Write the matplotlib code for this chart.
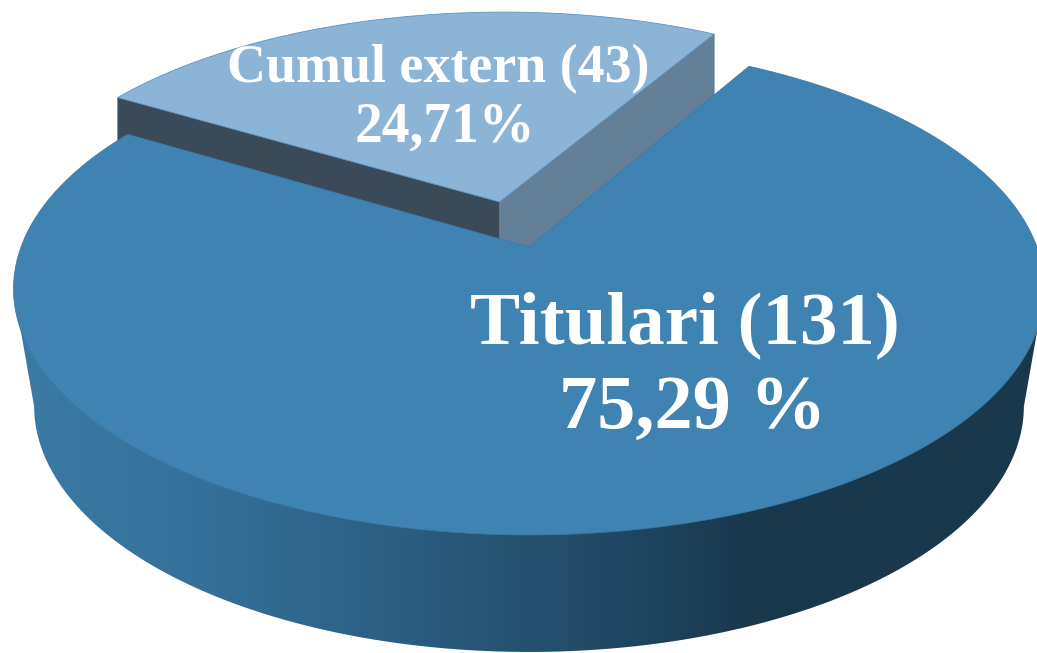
import numpy as np
import matplotlib
matplotlib.use("Agg")
import matplotlib.pyplot as plt
from matplotlib.colors import LinearSegmentedColormap
from matplotlib.patches import Polygon

# data
categories = ["Titulari", "Cumul extern"]
counts = [131, 43]
percent_labels = ["75,29 %", "24,71%"]

# pie geometry, in image pixels
cx, cy = 529, 247
rx, ry = 508, 239
persp = 0.17
depth = 117
bottom_scale = 0.96
start_angle = 60.2  # where the small slice starts, degrees


def project(u, v):
    # flat unit disc -> picture, far side smaller than near side
    den = 1 + persp * v
    return cx + rx * u / den, cy - ry * v / den


def arc(a1, a2, radius=1.0, du=0.0, dv=0.0, n=400):
    t = np.radians(np.linspace(a1, a2, n))
    x, y = project(radius * np.cos(t) + du, radius * np.sin(t) + dv)
    return np.column_stack([x, y])


fig = plt.figure(figsize=(10.37, 6.53), dpi=100)
ax = fig.add_axes([0, 0, 1, 1])
ax.set_xlim(0, 1037)
ax.set_ylim(653, 0)
ax.axis("off")

sweep = 360 * counts[1] / sum(counts)
end_angle = start_angle + sweep

# side of the big slice, horizontal gradient
edge = arc(120, 420)
edge = edge[np.argmin(edge[:, 0]):np.argmax(edge[:, 0]) + 1]
bottom = edge.copy()
bottom[:, 0] = cx + bottom_scale * (bottom[:, 0] - cx)
bottom[:, 1] = bottom[:, 1] + depth
side = Polygon(np.vstack([edge[[0]], bottom, edge[[-1]]]), closed=True, fc="none", ec="none")
ax.add_patch(side)
side_cmap = LinearSegmentedColormap.from_list(
    "side",
    [(0, "#3b7ba4"), (0.2, "#35709a"), (0.4, "#2a5c80"), (0.55, "#234d69"),
     (0.72, "#1a384d"), (1, "#1a384c")],
)
grad = ax.imshow(np.linspace(0, 1, 512).reshape(1, -1), cmap=side_cmap, aspect="auto",
                 extent=(0, 1037, 653, 0), zorder=1)
grad.set_clip_path(side)
ax.set_xlim(0, 1037)
ax.set_ylim(653, 0)

# pulled out slice, walls run on behind the big slice
du, dv, rad = -0.06, 0.195, 0.985
s_arc = arc(start_angle, end_angle, rad, du, dv)
s_apex = np.array(project(du, dv))
wall = 75
left_wall = np.vstack([s_arc[-1], s_apex, s_apex + [0, wall], s_arc[-1] + [0, wall]])
right_wall = np.vstack([s_apex, s_arc[0], s_arc[0] + [0, wall], s_apex + [0, wall]])
ax.add_patch(Polygon(left_wall, closed=True, fc="#3b4a58", ec="#4d6477", lw=0.5, zorder=2))
ax.add_patch(Polygon(right_wall, closed=True, fc="#647f98", ec="#4f7ea3", lw=0.5, zorder=2))
ax.add_patch(Polygon(np.vstack([s_apex, s_arc]), closed=True, fc="#8cb4d7", ec="#5f93bd", lw=0.6, zorder=3))

# top of the big slice
m_arc = arc(end_angle, start_angle + 360)
ax.add_patch(Polygon(np.vstack([[cx, cy], m_arc]), closed=True, fc="#3e83b2", ec="#3a7aa6", lw=0.5, zorder=4))

# labels
font = dict(family="Liberation Serif", weight="bold", color="white", ha="center", va="baseline", zorder=5)
ax.text(684.5, 343, f"{categories[0]} ({counts[0]})", fontsize=54, **font)
ax.text(693, 428, percent_labels[0], fontsize=55, **font)
ax.text(438.5, 82, f"{categories[1]} ({counts[1]})", fontsize=38.8, **font)
ax.text(445, 142, percent_labels[1], fontsize=40, **font)

plt.savefig("out.png", dpi=100)
